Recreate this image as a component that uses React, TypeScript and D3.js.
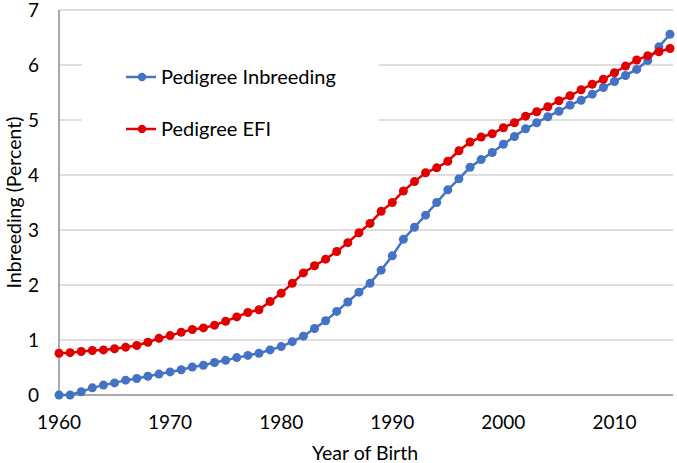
import React from "react";
import * as d3 from "d3";

const years: number[] = d3.range(1960, 2016);
const pedigreeInbreeding: number[] = [
  0, 0, 0.06, 0.13, 0.18, 0.22, 0.27, 0.3, 0.34, 0.38,
  0.42, 0.46, 0.51, 0.54, 0.59, 0.63, 0.68, 0.72, 0.76, 0.82,
  0.88, 0.97, 1.07, 1.21, 1.35, 1.52, 1.69, 1.87, 2.03, 2.27,
  2.53, 2.83, 3.05, 3.27, 3.5, 3.73, 3.93, 4.14, 4.28, 4.41,
  4.56, 4.7, 4.84, 4.95, 5.06, 5.16, 5.27, 5.36, 5.47, 5.59,
  5.7, 5.81, 5.92, 6.08, 6.33, 6.56,
];
const pedigreeEFI: number[] = [
  0.76, 0.77, 0.79, 0.81, 0.82, 0.84, 0.87, 0.9, 0.96, 1.03,
  1.08, 1.14, 1.19, 1.22, 1.27, 1.34, 1.42, 1.5, 1.55, 1.7,
  1.85, 2.03, 2.22, 2.35, 2.47, 2.61, 2.77, 2.95, 3.12, 3.34,
  3.5, 3.71, 3.88, 4.04, 4.13, 4.25, 4.44, 4.6, 4.69, 4.75,
  4.86, 4.95, 5.07, 5.15, 5.24, 5.35, 5.44, 5.55, 5.65, 5.74,
  5.86, 5.98, 6.09, 6.17, 6.24, 6.3,
];
const xTicks: number[] = [1960, 1970, 1980, 1990, 2000, 2010];
const yTicks: number[] = [0, 1, 2, 3, 4, 5, 6, 7];

const series = [
  { name: "Pedigree Inbreeding", values: pedigreeInbreeding, color: "#4472C4" },
  { name: "Pedigree EFI", values: pedigreeEFI, color: "#E00000" },
];

const W = 677;
const H = 463;
const font = "Lato, 'Open Sans', sans-serif";

export default function App() {
  const x = d3.scaleLinear().domain([1960, 2015]).range([59, 670]);
  const y = d3.scaleLinear().domain([0, 7]).range([395, 10]);
  const line = d3
    .line<number>()
    .x((_, i) => x(years[i]))
    .y((d) => y(d));

  return (
    <svg
      width={W}
      height={H}
      style={{ position: "absolute", left: 0, top: 0, background: "#fff" }}
      fontFamily={font}
    >
      <rect x={0} y={0} width={W} height={H} fill="#fff" />
      {yTicks.slice(1).map((t) => (
        <line key={t} x1={59} x2={673} y1={y(t)} y2={y(t)} stroke="#BFBFBF" strokeWidth={1.2} />
      ))}
      {/* legend background */}
      <rect x={82} y={35} width={297} height={120} fill="#fff" />
      {/* axes */}
      <line x1={59} x2={59} y1={y(7)} y2={y(0)} stroke="#8C8C8C" strokeWidth={1.5} />
      <line x1={59} x2={673} y1={y(0)} y2={y(0)} stroke="#8C8C8C" strokeWidth={1.5} />
      {yTicks.map((t) => (
        <text key={t} x={39} y={y(t)} dy="0.35em" textAnchor="end" fontSize={19} fill="#000">
          {t}
        </text>
      ))}
      {xTicks.map((t) => (
        <text key={t} x={x(t)} y={422} dy="0.35em" textAnchor="middle" fontSize={19} fill="#000">
          {t}
        </text>
      ))}
      <text x={365} y={453} dy="0.35em" textAnchor="middle" fontSize={19.5} fill="#000">
        Year of Birth
      </text>
      <text
        transform={`translate(14,${y(3.5)}) rotate(-90)`}
        dy="0.35em"
        textAnchor="middle"
        fontSize={19.5}
        fill="#000"
      >
        Inbreeding (Percent)
      </text>
      {series.map((s) => (
        <g key={s.name}>
          <path d={line(s.values) || ""} fill="none" stroke={s.color} strokeWidth={2.5} />
          {s.values.map((v, i) => (
            <circle key={i} cx={x(years[i])} cy={y(v)} r={4.5} fill={s.color} />
          ))}
        </g>
      ))}
      {series.map((s, i) => {
        const ly = 77 + i * 52;
        return (
          <g key={s.name}>
            <line x1={126} x2={156} y1={ly} y2={ly} stroke={s.color} strokeWidth={2.5} />
            <circle cx={142} cy={ly} r={4.2} fill={s.color} />
            <text x={161} y={ly} dy="0.35em" fontSize={20} fill="#000">
              {s.name}
            </text>
          </g>
        );
      })}
    </svg>
  );
}
